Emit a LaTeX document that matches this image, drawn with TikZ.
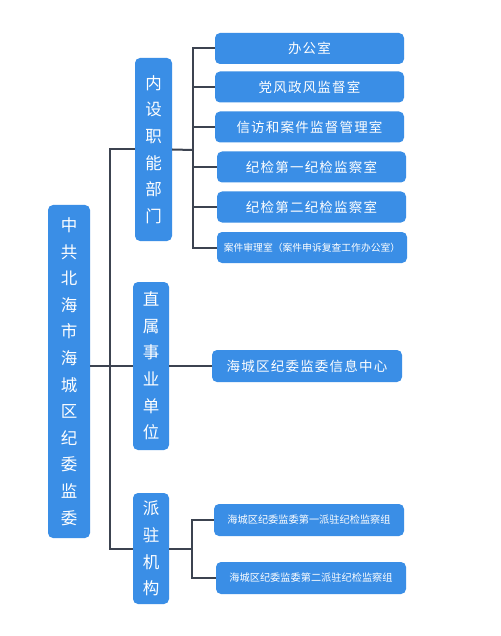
\documentclass[tikz,border=0pt]{standalone}
\usepackage{fontspec}
\setmainfont{Noto Sans CJK SC}
\newfontfamily\cjksp{Noto Sans CJK SC}[LetterSpace=9]
\definecolor{boxblue}{HTML}{3A8EE6}
\definecolor{linegray}{HTML}{3C4350}
\tikzset{
  base/.style={fill=boxblue, text=white, inner sep=0pt, rounded corners=5pt},
  vbox/.style={base, align=center, font=\fontsize{16.5}{26.6}\selectfont},
  hbox/.style={base, minimum width=189pt, minimum height=31pt, font=\cjksp\fontsize{13.5}{16}\selectfont},
  sbox/.style={base, minimum width=190pt, minimum height=32pt, font=\fontsize{10.2}{12}\selectfont},
  conn/.style={draw=linegray, line width=2pt}
}
\begin{document}
\begin{tikzpicture}[x=1pt,y=-1pt]
\useasboundingbox (0,0) rectangle (500,636);
\fill[white] (0,0) rectangle (500,636);
% root
\node[vbox, minimum width=42pt, minimum height=333pt] (root) at (69,371.5) {中\\共\\北\\海\\市\\海\\城\\区\\纪\\委\\监\\委};
% level 2
\node[vbox, minimum width=37pt, minimum height=183pt] (l2a) at (153.5,149.5) {内\\设\\职\\能\\部\\门};
\node[vbox, minimum width=36pt, minimum height=168pt] (l2b) at (151,366) {直\\属\\事\\业\\单\\位};
\node[vbox, minimum width=36pt, minimum height=111pt] (l2c) at (151,548.5) {派\\驻\\机\\构};
% level 3
\node[hbox] (a1) at (309.5,48.5) {办公室};
\node[hbox] (a2) at (309.5,87) {党风政风监督室};
\node[hbox] (a3) at (309.5,127) {信访和案件监督管理室};
\node[hbox] (a4) at (311.5,167) {纪检第一纪检监察室};
\node[hbox] (a5) at (311.5,207) {纪检第二纪检监察室};
\node[sbox, minimum width=190pt, minimum height=31pt, font=\fontsize{9.8}{12}\selectfont] (a6) at (312,247.5) {案件审理室（案件申诉复查工作办公室）};
\node[hbox, minimum width=190pt, minimum height=32pt] (b1) at (307,366) {海城区纪委监委信息中心};
\node[sbox] (c1) at (309,520) {海城区纪委监委第一派驻纪检监察组};
\node[sbox] (c2) at (311,578) {海城区纪委监委第二派驻纪检监察组};
% connectors
\coordinate (tr) at (110,366);
\coordinate (ba) at (193,150);
\coordinate (bc) at (192,549);
\draw[conn] (l2a.west) -| (tr) |- (l2c.west);
\draw[conn] (root.east |- tr) -- (l2b.west);
\draw[conn] (l2b.east) -- (b1.west);
\draw[conn] (l2a.east) -- (ba);
\draw[conn] (a1.west) -| (ba) |- (a6.west);
\draw[conn] (a2.west) -- (ba |- a2.west);
\draw[conn] (a3.west) -- (ba |- a3.west);
\draw[conn] (a4.west) -- (ba |- a4.west);
\draw[conn] (a5.west) -- (ba |- a5.west);
\draw[conn] (l2c.east |- bc) -- (bc);
\draw[conn] (c1.west) -| (bc) |- (c2.west);
\end{tikzpicture}
\end{document}
